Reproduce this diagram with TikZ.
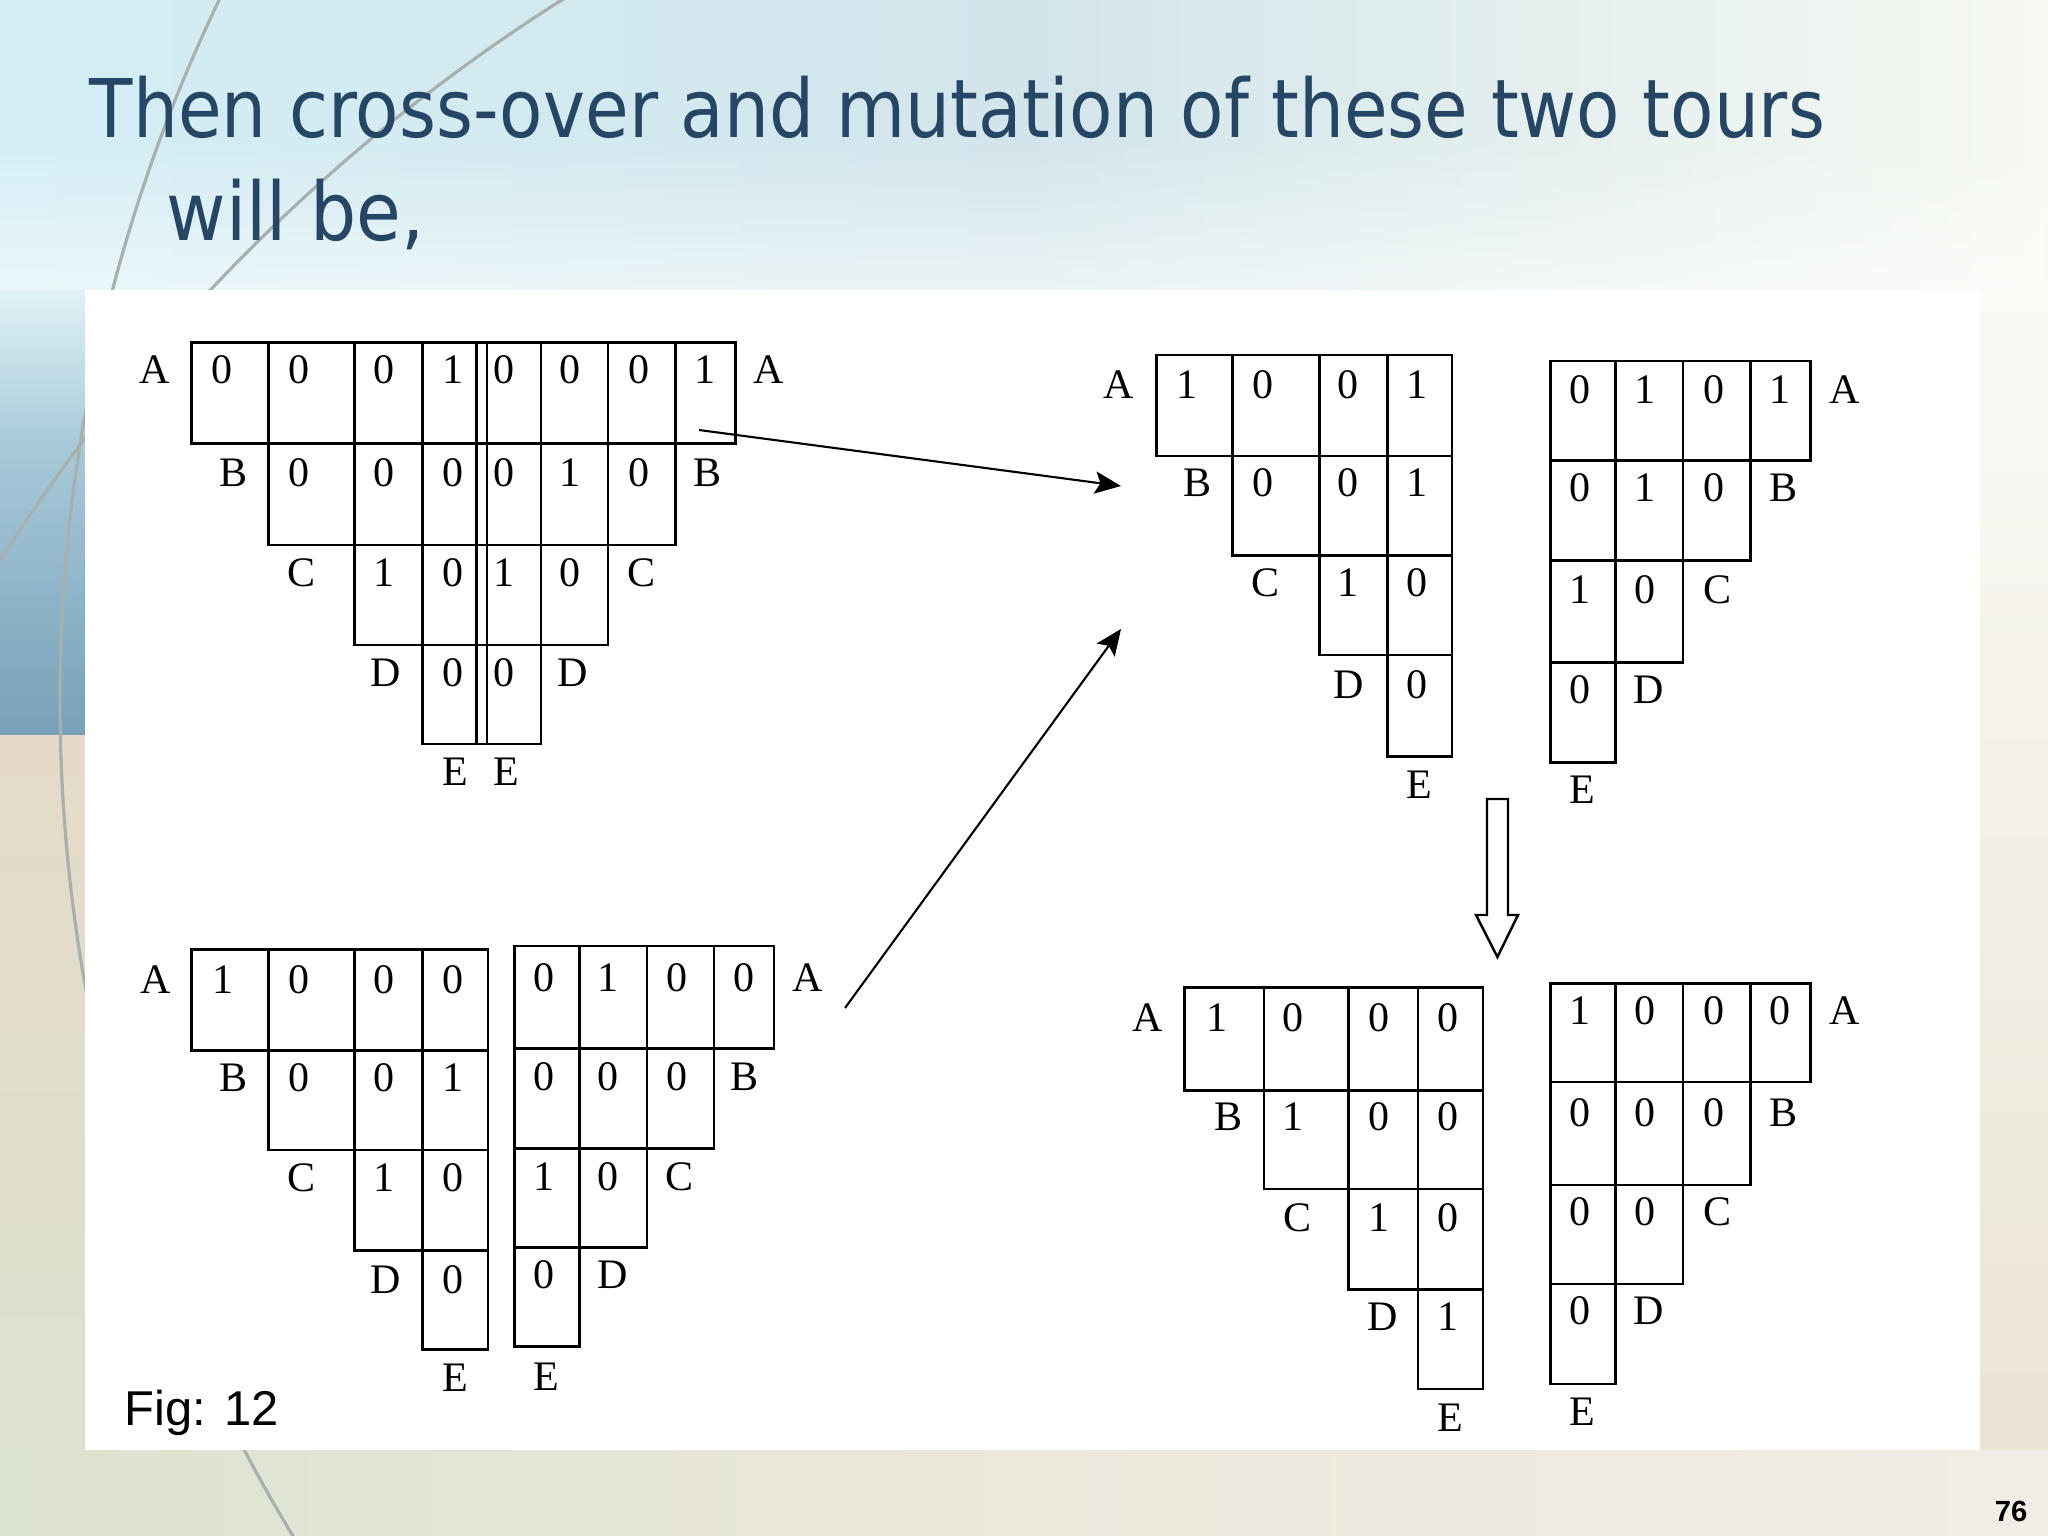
\documentclass[tikz,border=0pt]{standalone}
\usepackage{fontspec}
\usetikzlibrary{arrows.meta,fadings}
\newfontfamily\titlefont{DejaVu Sans}
\newfontfamily\serifface{Liberation Serif}
\newfontfamily\sansface{Liberation Sans}
\definecolor{titleblue}{RGB}{37,70,100}
\definecolor{bgtop}{HTML}{DCEFF3}
\definecolor{bgmid}{HTML}{F2F4EE}
\definecolor{bgbot}{HTML}{ECE7DA}
\definecolor{tbL}{HTML}{D3EEF5}
\definecolor{tbM}{HTML}{D2E5EB}
\definecolor{tbR}{HTML}{F6F9F1}
\definecolor{lsA}{HTML}{E0F2F5}
\definecolor{lsB}{HTML}{A8CADA}
\definecolor{lsC}{HTML}{76A1B9}
\definecolor{lsD}{HTML}{E5DAC8}
\definecolor{lsE}{HTML}{DCE2CE}
\definecolor{rsA}{HTML}{FAFAF6}
\definecolor{rsB}{HTML}{EAE4D5}
\definecolor{bbL}{HTML}{DCE3CF}
\definecolor{bbM}{HTML}{ECE8DC}
\definecolor{bbR}{HTML}{F1EDE4}
\definecolor{arcgray}{HTML}{A8B0AE}
\newcommand\setcols[5]{\def\Xa{#1}\def\Xb{#2}\def\Xc{#3}\def\Xd{#4}\def\Xe{#5}}
\newcommand\setrows[5]{\def\Ya{#1}\def\Yb{#2}\def\Yc{#3}\def\Yd{#4}\def\Ye{#5}}
\newcommand\leftstair{\draw[gridline]
 (\Xa,\Ya) -- (\Xe,\Ya) (\Xa,\Yb) -- (\Xe,\Yb) (\Xb,\Yc) -- (\Xe,\Yc)
 (\Xc,\Yd) -- (\Xe,\Yd) (\Xd,\Ye) -- (\Xe,\Ye)
 (\Xa,\Ya) -- (\Xa,\Yb) (\Xb,\Ya) -- (\Xb,\Yc) (\Xc,\Ya) -- (\Xc,\Yd)
 (\Xd,\Ya) -- (\Xd,\Ye) (\Xe,\Ya) -- (\Xe,\Ye);}
\newcommand\rightstair{\draw[gridline]
 (\Xa,\Ya) -- (\Xe,\Ya) (\Xa,\Yb) -- (\Xe,\Yb) (\Xa,\Yc) -- (\Xd,\Yc)
 (\Xa,\Yd) -- (\Xc,\Yd) (\Xa,\Ye) -- (\Xb,\Ye)
 (\Xa,\Ya) -- (\Xa,\Ye) (\Xb,\Ya) -- (\Xb,\Ye) (\Xc,\Ya) -- (\Xc,\Yd)
 (\Xd,\Ya) -- (\Xd,\Yc) (\Xe,\Ya) -- (\Xe,\Yb);}
\tikzset{
 gridline/.style={line width=0.7pt, line cap=rect},
 dig/.style={font=\serifface\fontsize{11.95}{14}\selectfont, inner sep=0pt, anchor=center},
 arr/.style={line width=0.6pt, -{Stealth[length=7.4pt,width=6.3pt,inset=1.5pt]}},
 hollow/.style={draw=black, fill=white, line width=0.7pt, line join=miter},
 arcline/.style={draw=arcgray, line width=0.9pt},
 titletext/.style={anchor=base west, inner sep=0pt, text=titleblue, font=\titlefont\fontsize{23}{28}\selectfont}
}
\begin{document}
\begin{tikzpicture}[x=0.01cm,y=-0.01cm]
\useasboundingbox (0,0) rectangle (2048,1536);
% ---------- background ----------
\begin{scope}
\clip (0,0) rectangle (2048,1536);
\shade[top color=bgtop, bottom color=bgbot, middle color=bgmid] (0,0) rectangle (2048,1536);
\shade[left color=tbL, right color=tbR, middle color=tbM] (0,0) rectangle (2048,290);
\fill[white, opacity=0.55, path fading=north] (0,140) rectangle (2048,290);
\shade[top color=lsA, bottom color=lsB] (0,290) rectangle (85,440);
\shade[top color=lsB, bottom color=lsC] (0,440) rectangle (85,735);
\shade[top color=lsD, bottom color=lsE] (0,735) rectangle (85,1450);
\shade[top color=rsA, bottom color=rsB] (1980,290) rectangle (2048,1450);
\shade[left color=bbL, right color=bbR, middle color=bbM] (0,1450) rectangle (2048,1536);
\draw[arcline] (1675,700) circle[radius=1615];
\draw[arcline] (1528.5,1530.5) circle[radius=1810];
\end{scope}
% ---------- title ----------
\node[titletext] (title1) at (89,137) {\scalebox{0.877}[1]{Then cross-over and mutation of these two tours}};
\node[titletext] (title2) at (166,240) {\scalebox{0.9}[1]{will be,}};
% ---------- white panel ----------
\fill[white] (85,290) rectangle (1980,1450);
% ---------- top-left: crossing of the two tours ----------
\setrows{342.7}{443.3}{545}{645}{744}
\setcols{191.4}{268.5}{354.6}{422.7}{476.5}\leftstair
\setcols{486.9}{541.1}{607.8}{675.4}{735.6}\rightstair
\draw[gridline] (476.5,342.7) -- (486.9,342.7) (476.5,443.3) -- (486.9,443.3)
 (476.5,545) -- (486.9,545) (476.5,645) -- (486.9,645) (476.5,744) -- (486.9,744);
\node[dig] (tlLA) at (154.6,370) {A};
\node[dig] (tlRA) at (769,370) {A};
\foreach \x/\v [count=\i] in {221.8/0,298.9/0,384.4/0,453/1,504.3/0,570/0,638.6/0,705.3/1}
  \node[dig] (tla\i) at (\x,370) {\v};
\node[dig] (tlLB) at (234,473) {B};
\node[dig] (tlRB) at (708,473) {B};
\foreach \x/\v [count=\i] in {298.9/0,384.4/0,453/0,504.3/0,570/1,638.6/0}
  \node[dig] (tlb\i) at (\x,473) {\v};
\node[dig] (tlLC) at (302,573) {C};
\node[dig] (tlRC) at (642,573) {C};
\foreach \x/\v [count=\i] in {384.4/1,453/0,504.3/1,570/0}
  \node[dig] (tlc\i) at (\x,573) {\v};
\node[dig] (tlLD) at (386,673) {D};
\node[dig] (tlRD) at (572.5,673) {D};
\foreach \x/\v [count=\i] in {453/0,504.3/0}
  \node[dig] (tld\i) at (\x,673) {\v};
\node[dig] (tlLE) at (455.6,771.7) {E};
\node[dig] (tlRE) at (506.8,771.7) {E};
% ---------- bottom-left: left piece ----------
\setcols{191.4}{268.5}{354.6}{422.7}{487.9}\setrows{949.3}{1050.7}{1150}{1250.7}{1349.3}\leftstair
\node[dig] (blLA) at (155.6,980) {A};
\foreach \x/\v [count=\i] in {223/1,299/0,384.4/0,453/0}
  \node[dig] (bla\i) at (\x,980) {\v};
\node[dig] (blLB) at (234,1078) {B};
\foreach \x/\v [count=\i] in {299/0,384.4/0,453/1}
  \node[dig] (blb\i) at (\x,1078) {\v};
\node[dig] (blLC) at (302,1178) {C};
\foreach \x/\v [count=\i] in {384.4/1,453/0}
  \node[dig] (blc\i) at (\x,1178) {\v};
\node[dig] (blLD) at (386,1280) {D};
\node[dig] (bld1) at (453,1280) {0};
\node[dig] (blLE) at (455.6,1378) {E};
% ---------- bottom-left: right piece ----------
\setcols{514.3}{579.4}{647.1}{714.2}{773.9}\setrows{946}{1048.3}{1148.3}{1247.3}{1346.7}\rightstair
\foreach \x/\v [count=\i] in {543.6/0,608.3/1,677/0,744/0}
  \node[dig] (bra\i) at (\x,978) {\v};
\node[dig] (brRA) at (807.3,978) {A};
\foreach \x/\v [count=\i] in {543.6/0,608.3/0,677/0}
  \node[dig] (brb\i) at (\x,1076.7) {\v};
\node[dig] (brRB) at (745,1076.7) {B};
\foreach \x/\v [count=\i] in {543.6/1,608.3/0}
  \node[dig] (brc\i) at (\x,1176.7) {\v};
\node[dig] (brRC) at (679.4,1176.7) {C};
\node[dig] (brd1) at (543.6,1275) {0};
\node[dig] (brRD) at (612.3,1275) {D};
\node[dig] (brRE) at (546,1376.7) {E};
% ---------- top-right: child 1 ----------
\setcols{1156.4}{1232.7}{1319.5}{1387.5}{1451.9}\setrows{355}{456}{555.3}{655}{756.7}\leftstair
\node[dig] (c1LA) at (1119,385) {A};
\foreach \x/\v [count=\i] in {1187/1,1263/0,1348/0,1417/1}
  \node[dig] (c1a\i) at (\x,385) {\v};
\node[dig] (c1LB) at (1197.7,483) {B};
\foreach \x/\v [count=\i] in {1263/0,1348/0,1417/1}
  \node[dig] (c1b\i) at (\x,483) {\v};
\node[dig] (c1LC) at (1265.7,583) {C};
\foreach \x/\v [count=\i] in {1348/1,1417/0}
  \node[dig] (c1c\i) at (\x,583) {\v};
\node[dig] (c1LD) at (1349,685) {D};
\node[dig] (c1d1) at (1417,685) {0};
\node[dig] (c1LE) at (1419,785) {E};
% ---------- top-right: child 2 ----------
\setcols{1550.7}{1615.6}{1683}{1750.5}{1810.6}\setrows{361}{460.7}{560.7}{662.3}{762.7}\rightstair
\foreach \x/\v [count=\i] in {1579.5/0,1645/1,1714/0,1780/1}
  \node[dig] (c2a\i) at (\x,390) {\v};
\node[dig] (c2RA) at (1844.6,390) {A};
\foreach \x/\v [count=\i] in {1579.5/0,1645/1,1714/0}
  \node[dig] (c2b\i) at (\x,488) {\v};
\node[dig] (c2RB) at (1783.5,488) {B};
\foreach \x/\v [count=\i] in {1579.5/1,1645/0}
  \node[dig] (c2c\i) at (\x,590) {\v};
\node[dig] (c2RC) at (1717,590) {C};
\node[dig] (c2d1) at (1579.5,690) {0};
\node[dig] (c2RD) at (1649,690) {D};
\node[dig] (c2RE) at (1582,790) {E};
% ---------- bottom-right: mutated child 1 ----------
\setcols{1184.6}{1264.1}{1348.3}{1417.9}{1483.2}\setrows{987.5}{1090.6}{1189}{1289.3}{1389}\leftstair
\node[dig] (m1LA) at (1148,1017.8) {A};
\foreach \x/\v [count=\i] in {1217/1,1293.4/0,1379/0,1447.7/0}
  \node[dig] (m1a\i) at (\x,1017.8) {\v};
\node[dig] (m1LB) at (1229,1116.7) {B};
\foreach \x/\v [count=\i] in {1293.4/1,1379/0,1447.7/0}
  \node[dig] (m1b\i) at (\x,1116.7) {\v};
\node[dig] (m1LC) at (1297,1217.7) {C};
\foreach \x/\v [count=\i] in {1379/1,1447.7/0}
  \node[dig] (m1c\i) at (\x,1217.7) {\v};
\node[dig] (m1LD) at (1382.3,1316.6) {D};
\node[dig] (m1d1) at (1447.7,1316.6) {1};
\node[dig] (m1LE) at (1450.3,1417.6) {E};
% ---------- bottom-right: mutated child 2 ----------
\setcols{1550.7}{1615.6}{1683}{1750.5}{1810.6}\setrows{983.3}{1082.2}{1184.9}{1283.8}{1384}\rightstair
\foreach \x/\v [count=\i] in {1579.5/1,1645/0,1714/0,1780/0}
  \node[dig] (m2a\i) at (\x,1010.6) {\v};
\node[dig] (m2RA) at (1844.6,1010.6) {A};
\foreach \x/\v [count=\i] in {1579.5/0,1645/0,1714/0}
  \node[dig] (m2b\i) at (\x,1112.5) {\v};
\node[dig] (m2RB) at (1783.5,1112.5) {B};
\foreach \x/\v [count=\i] in {1579.5/0,1645/0}
  \node[dig] (m2c\i) at (\x,1211.4) {\v};
\node[dig] (m2RC) at (1717,1211.4) {C};
\node[dig] (m2d1) at (1579.5,1311) {0};
\node[dig] (m2RD) at (1649,1311) {D};
\node[dig] (m2RE) at (1582,1411.3) {E};
% ---------- arrows ----------
\coordinate (a1s) at (699,430);
\coordinate (a1e) at (1121,486);
\coordinate (a2s) at (845,1008);
\coordinate (a2e) at (1121,629);
\draw[arr] (a1s) -- (a1e);
\draw[arr] (a2s) -- (a2e);
\draw[hollow] (1487,799) -- (1508,799) -- (1508,915) -- (1518,915) -- (1497.4,957)
  -- (1476,915) -- (1487,915) -- cycle;
% ---------- captions ----------
\node[anchor=base west, inner sep=0pt, font=\sansface\fontsize{13.9}{16}\selectfont] (fig) at (124,1425) {Fig: 12};
\node[anchor=base east, inner sep=0pt, font=\sansface\bfseries\fontsize{8.3}{10}\selectfont] (pageno) at (2028,1521) {76};
\end{tikzpicture}
\end{document}
